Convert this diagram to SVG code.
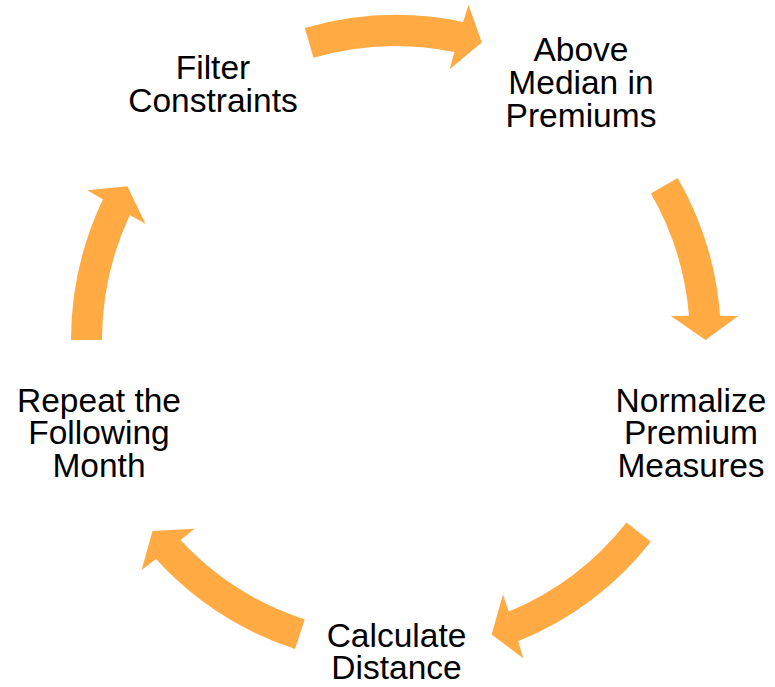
<svg xmlns="http://www.w3.org/2000/svg" width="775" height="687" viewBox="0 0 775 687">
<style>
.arrow{fill:#FFAA42;stroke:none}
.lbl{font-family:"Liberation Sans",Arial,sans-serif;font-size:33.5px;fill:#000;text-anchor:middle}
</style>
<rect width="775" height="687" fill="#fff"/>
<g id="connectors">
<path class="arrow" d="M304.8,28.1 A325,325 0 0,1 463.2,22.0 L468.5,4.7 L481.8,42.6 L449.6,69.2 L454.5,51.9 A294,294 0 0,0 313.5,57.8 Z"/>
<path class="arrow" d="M677.7,178.0 A325,325 0 0,1 720.1,315.8 L738.2,316.1 L705.5,340 L670.9,315.9 L689.0,315.8 A294,294 0 0,0 650.9,193.4 Z"/>
<path class="arrow" d="M650.8,541.7 A325,325 0 0,1 518.1,641.2 L523.4,658.5 L491.6,634.4 L503.0,594.4 L508.7,611.6 A294,294 0 0,0 626.5,522.4 Z"/>
<path class="arrow" d="M295.0,648.9 A325,325 0 0,1 156.0,559.1 L141.6,570.1 L152.5,531.0 L194.6,528.7 L180.5,540.0 A294,294 0 0,0 304.7,619.4 Z"/>
<path class="arrow" d="M71,340 A325,325 0 0,1 102.9,199.6 L87.4,190.3 L127.4,186.2 L145.6,223.9 L129.8,215.1 A294,294 0 0,0 102,340 Z"/>
</g>
<g id="node-filter">
<text class="lbl" x="213" y="78.5">Filter</text>
<text class="lbl" x="213" y="111.5">Constraints</text>
</g>
<g id="node-above">
<text class="lbl" x="581" y="61">Above</text>
<text class="lbl" x="581" y="94">Median in</text>
<text class="lbl" x="581" y="127">Premiums</text>
</g>
<g id="node-normalize">
<text class="lbl" x="691" y="411.5">Normalize</text>
<text class="lbl" x="691" y="444">Premium</text>
<text class="lbl" x="691" y="476.5">Measures</text>
</g>
<g id="node-calculate">
<text class="lbl" x="396.5" y="646.5">Calculate</text>
<text class="lbl" x="396.5" y="678.5">Distance</text>
</g>
<g id="node-repeat">
<text class="lbl" x="99" y="411.5">Repeat the</text>
<text class="lbl" x="99" y="444">Following</text>
<text class="lbl" x="99" y="476.5">Month</text>
</g>
</svg>
